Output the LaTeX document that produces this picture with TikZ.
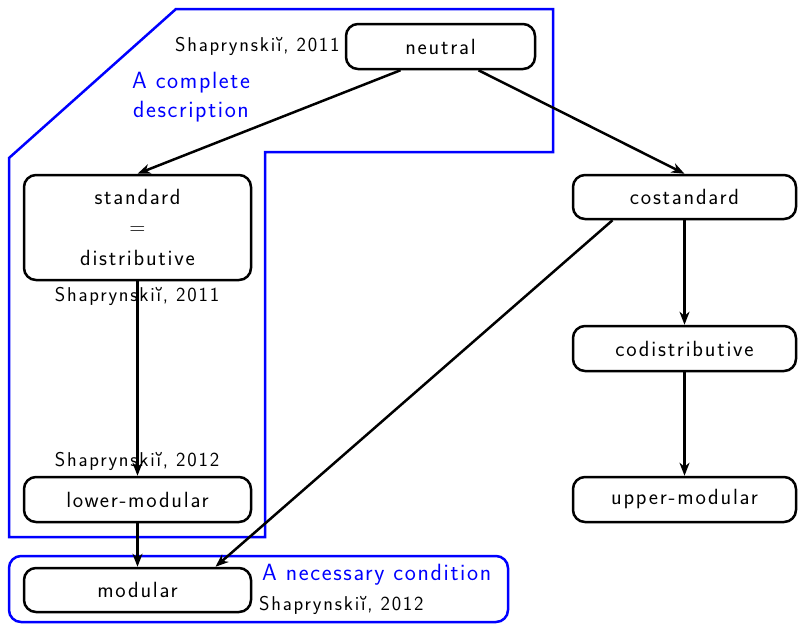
\documentclass[tikz,border=0pt]{standalone}
\usepackage{fontspec}
\usetikzlibrary{arrows.meta,calc}
\newfontfamily\boxfont{Latin Modern Sans}[LetterSpace=8]
\newfontfamily\citefont{Latin Modern Sans}[LetterSpace=9]
\newfontfamily\notefont{Latin Modern Sans}[LetterSpace=7]
\definecolor{frameblue}{RGB}{0,0,255}
\tikzset{
  box/.style={draw=black, line width=2.5pt, rounded corners=12pt, fill=white,
    font=\boxfont\fontsize{22}{26}\selectfont, inner sep=2pt},
  wide/.style={box, minimum width=227pt, minimum height=45pt},
  cite/.style={font=\citefont\fontsize{20}{24}\selectfont, inner sep=1pt},
  note/.style={text=frameblue, font=\notefont\fontsize{23.5}{29}\selectfont,
    inner sep=1pt, align=center},
  frame/.style={draw=frameblue, line width=2.5pt},
  link/.style={line width=2.5pt, -{Stealth[length=13pt,width=10pt,inset=4pt]}}
}
\begin{document}
\begin{tikzpicture}[x=1pt,y=-1pt]
\useasboundingbox (0,0) rectangle (798,624);

% the two outlined groups
\draw[frame] (9,158) -- (176,9) -- (553,9) -- (553,152) -- (265,152) -- (265,537) -- (9,537) -- cycle;
\draw[frame, rounded corners=12pt] (9,556) rectangle (508,622);

% lattice elements
\node[box, minimum width=189pt, minimum height=45pt] (neutral) at (440.5,46.5) {neutral};
\node[wide, minimum height=105pt, align=center] (standard) at (137.5,227.5)
  {standard\\[4pt]=\\[5pt]distributive};
\node[wide] (lower) at (137.5,499.5) {lower-modular};
\node[wide, minimum height=44pt] (modular) at (137.5,590) {modular};
\node[box, minimum width=223pt, minimum height=44pt] (costandard) at (684.5,197) {costandard};
\node[box, minimum width=223pt, minimum height=45pt] (codist) at (684.5,348.5) {codistributive};
\node[box, minimum width=223pt, minimum height=45pt] (upper) at (684.5,499.5) {upper-modular};

% references and notes
\node[cite, anchor=east] (c1) at ($(neutral.west)+(-4,0)$) {Shaprynskiĭ, 2011};
\node[cite] (c2) at (137,296) {Shaprynskiĭ, 2011};
\node[cite] (c3) at (137,461) {Shaprynskiĭ, 2012};
\node[note] (complete) at (191,97) {A complete\\description};
\node[note, anchor=west] (necessary) at (261,575) {A necessary condition};
\node[cite, anchor=west] (c4) at (258,605) {Shaprynskiĭ, 2012};

% implications
\draw[link] ($(neutral.south)+(-40,0)$) -- (standard.north);
\draw[link] ($(neutral.south)+(38,0)$) -- (costandard.north);
\draw[link] (standard.south) -- (lower.north);
\draw[link] (lower.south) -- (modular.north);
\draw[link] ($(costandard.south)+(-72,0)$) -- ($(modular.north)+(78,0)$);
\draw[link] (costandard.south) -- (codist.north);
\draw[link] (codist.south) -- (upper.north);
\end{tikzpicture}
\end{document}
